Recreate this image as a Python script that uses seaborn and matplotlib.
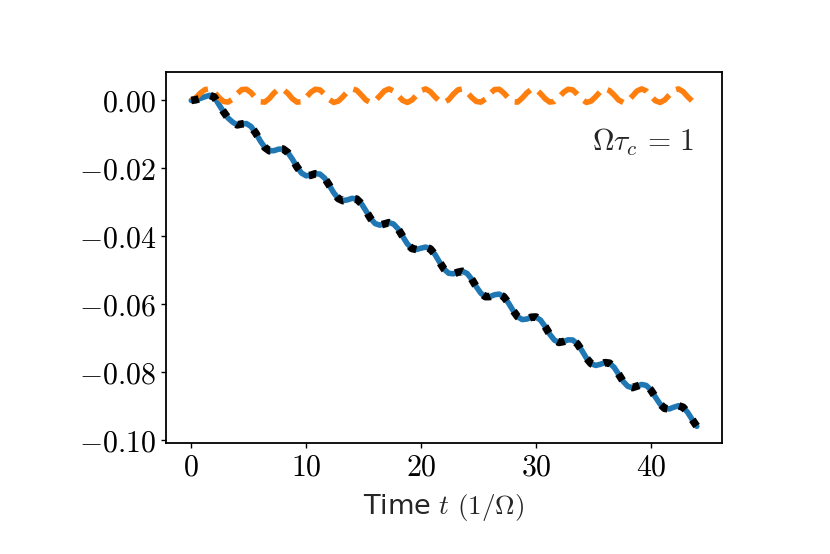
import numpy as np
import pandas as pd
import matplotlib
matplotlib.use("Agg")
import matplotlib.pyplot as plt
import seaborn as sns
from matplotlib.ticker import FuncFormatter

# ===========================
# Data
# ===========================

# sampled every 0.4 (1/Omega) from t = 0 to t = 44
t_start, t_end = 0.0, 44.0

blue_curve = [
    0.0, 0.0002, 0.0006, 0.0011, 0.0015, 0.0010, -0.0012, -0.0033, -0.0052, -0.0064,
    -0.0072, -0.00693, -0.00682, -0.00769, -0.00956, -0.01190, -0.01386, -0.01484,
    -0.01481, -0.01436, -0.01434, -0.01534, -0.01730, -0.01961, -0.02143, -0.02222,
    -0.02206, -0.02161, -0.02172, -0.02287, -0.02494, -0.02723, -0.02892, -0.02955,
    -0.02930, -0.02886, -0.02909, -0.03040, -0.03254, -0.03477, -0.03631, -0.03677,
    -0.03642, -0.03604, -0.03642, -0.03787, -0.04008, -0.04226, -0.04364, -0.04395,
    -0.04355, -0.04323, -0.04376, -0.04536, -0.04761, -0.04972, -0.05095, -0.05111,
    -0.05066, -0.05037, -0.05099, -0.05265, -0.05489, -0.05683, -0.05784, -0.05782,
    -0.05728, -0.05709, -0.05788, -0.05967, -0.06190, -0.06375, -0.06460, -0.06445,
    -0.06391, -0.06384, -0.06478, -0.06668, -0.06892, -0.07064, -0.07133, -0.07108,
    -0.07057, -0.07062, -0.07174, -0.07376, -0.07598, -0.07759, -0.07812, -0.07779,
    -0.07729, -0.07745, -0.07868, -0.08074, -0.08288, -0.08431, -0.08465, -0.08421,
    -0.08373, -0.08401, -0.08537, -0.08747, -0.08952, -0.09077, -0.09095, -0.09042,
    -0.09000, -0.09044, -0.09195, -0.09409, -0.09607,
]

orange_curve = [
    0.0, 0.0008, 0.0022, 0.0032, 0.0034, 0.0025, 0.0009, -0.0003, -0.0005, 0.0004,
    0.0020, 0.0032, 0.0033, 0.0023, 0.0007, -0.0004, -0.0005, 0.0006, 0.0022, 0.0033,
    0.0032, 0.0021, 0.0005, -0.0005, -0.0004, 0.0009, 0.0024, 0.0033, 0.0031, 0.0018,
    0.0003, -0.0006, -0.0002, 0.0011, 0.0026, 0.0034, 0.0030, 0.0016, 0.0001, -0.0006,
    -0.0001, 0.0013, 0.0028, 0.0034, 0.0028, 0.0014, 0.0000, -0.0006, 0.0001, 0.0015,
    0.0029, 0.0034, 0.0026, 0.0011, -0.0002, -0.0006, 0.0002, 0.0018, 0.0031, 0.0034,
    0.0024, 0.0009, -0.0003, -0.0005, 0.0004, 0.0020, 0.0032, 0.0033, 0.0022, 0.0007,
    -0.0004, -0.0005, 0.0007, 0.0022, 0.0033, 0.0032, 0.0020, 0.0005, -0.0005, -0.0003,
    0.0009, 0.0024, 0.0033, 0.0031, 0.0018, 0.0003, -0.0006, -0.0002, 0.0011, 0.0026,
    0.0034, 0.0029, 0.0016, 0.0001, -0.0006, -0.0001, 0.0013, 0.0028, 0.0034, 0.0028,
    0.0013, -0.0001, -0.0006, 0.0001, 0.0016, 0.0030, 0.0034, 0.0026, 0.0011, -0.0002,
    -0.0006,
]

x_ticks = [0, 10, 20, 30, 40]
y_ticks = [0.00, -0.02, -0.04, -0.06, -0.08, -0.10]

assert len(blue_curve) == len(orange_curve), (len(blue_curve), len(orange_curve))

time = np.linspace(t_start, t_end, len(blue_curve))
df = pd.DataFrame({"t": time, "blue": blue_curve, "orange": orange_curve})

# ===========================
# Plot
# ===========================

sns.set_style("ticks")
plt.rcParams["font.family"] = ["DejaVu Sans"]
plt.rcParams["mathtext.fontset"] = "cm"
plt.rcParams["font.size"] = 21
plt.rcParams["axes.linewidth"] = 1.3
plt.rcParams["xtick.major.width"] = 1.0
plt.rcParams["ytick.major.width"] = 1.0

fig, ax = plt.subplots(figsize=(8.3, 5.54), dpi=100)
fig.subplots_adjust(left=0.2, right=0.87, top=0.87, bottom=0.2)

sns.lineplot(data=df, x="t", y="blue", color="#1f77b4", linewidth=4, ax=ax)
sns.lineplot(data=df, x="t", y="orange", color="#ff7f0e", linewidth=4,
             linestyle="--", ax=ax)
sns.lineplot(data=df, x="t", y="blue", color="black", linewidth=5.5,
             linestyle=(0, (1, 1.6)), ax=ax)

ax.set_xticks(x_ticks)
ax.set_yticks(y_ticks)
ax.xaxis.set_major_formatter(FuncFormatter(lambda v, _: f"${v:.0f}$"))
ax.yaxis.set_major_formatter(FuncFormatter(lambda v, _: f"${v:.2f}$"))
ax.tick_params(labelsize=21.5, colors="black")
for sp in ax.spines.values():
    sp.set_color("black")

ax.set_xlabel(r"Time $t$ $(1/\Omega)$", fontsize=19.5, labelpad=7)
ax.set_ylabel("")
ax.text(0.95, 0.81, r"$\Omega\tau_c\,=\,1$", transform=ax.transAxes,
        ha="right", va="center", fontsize=21.5)

plt.savefig("out.png", dpi=100)
plt.close()
